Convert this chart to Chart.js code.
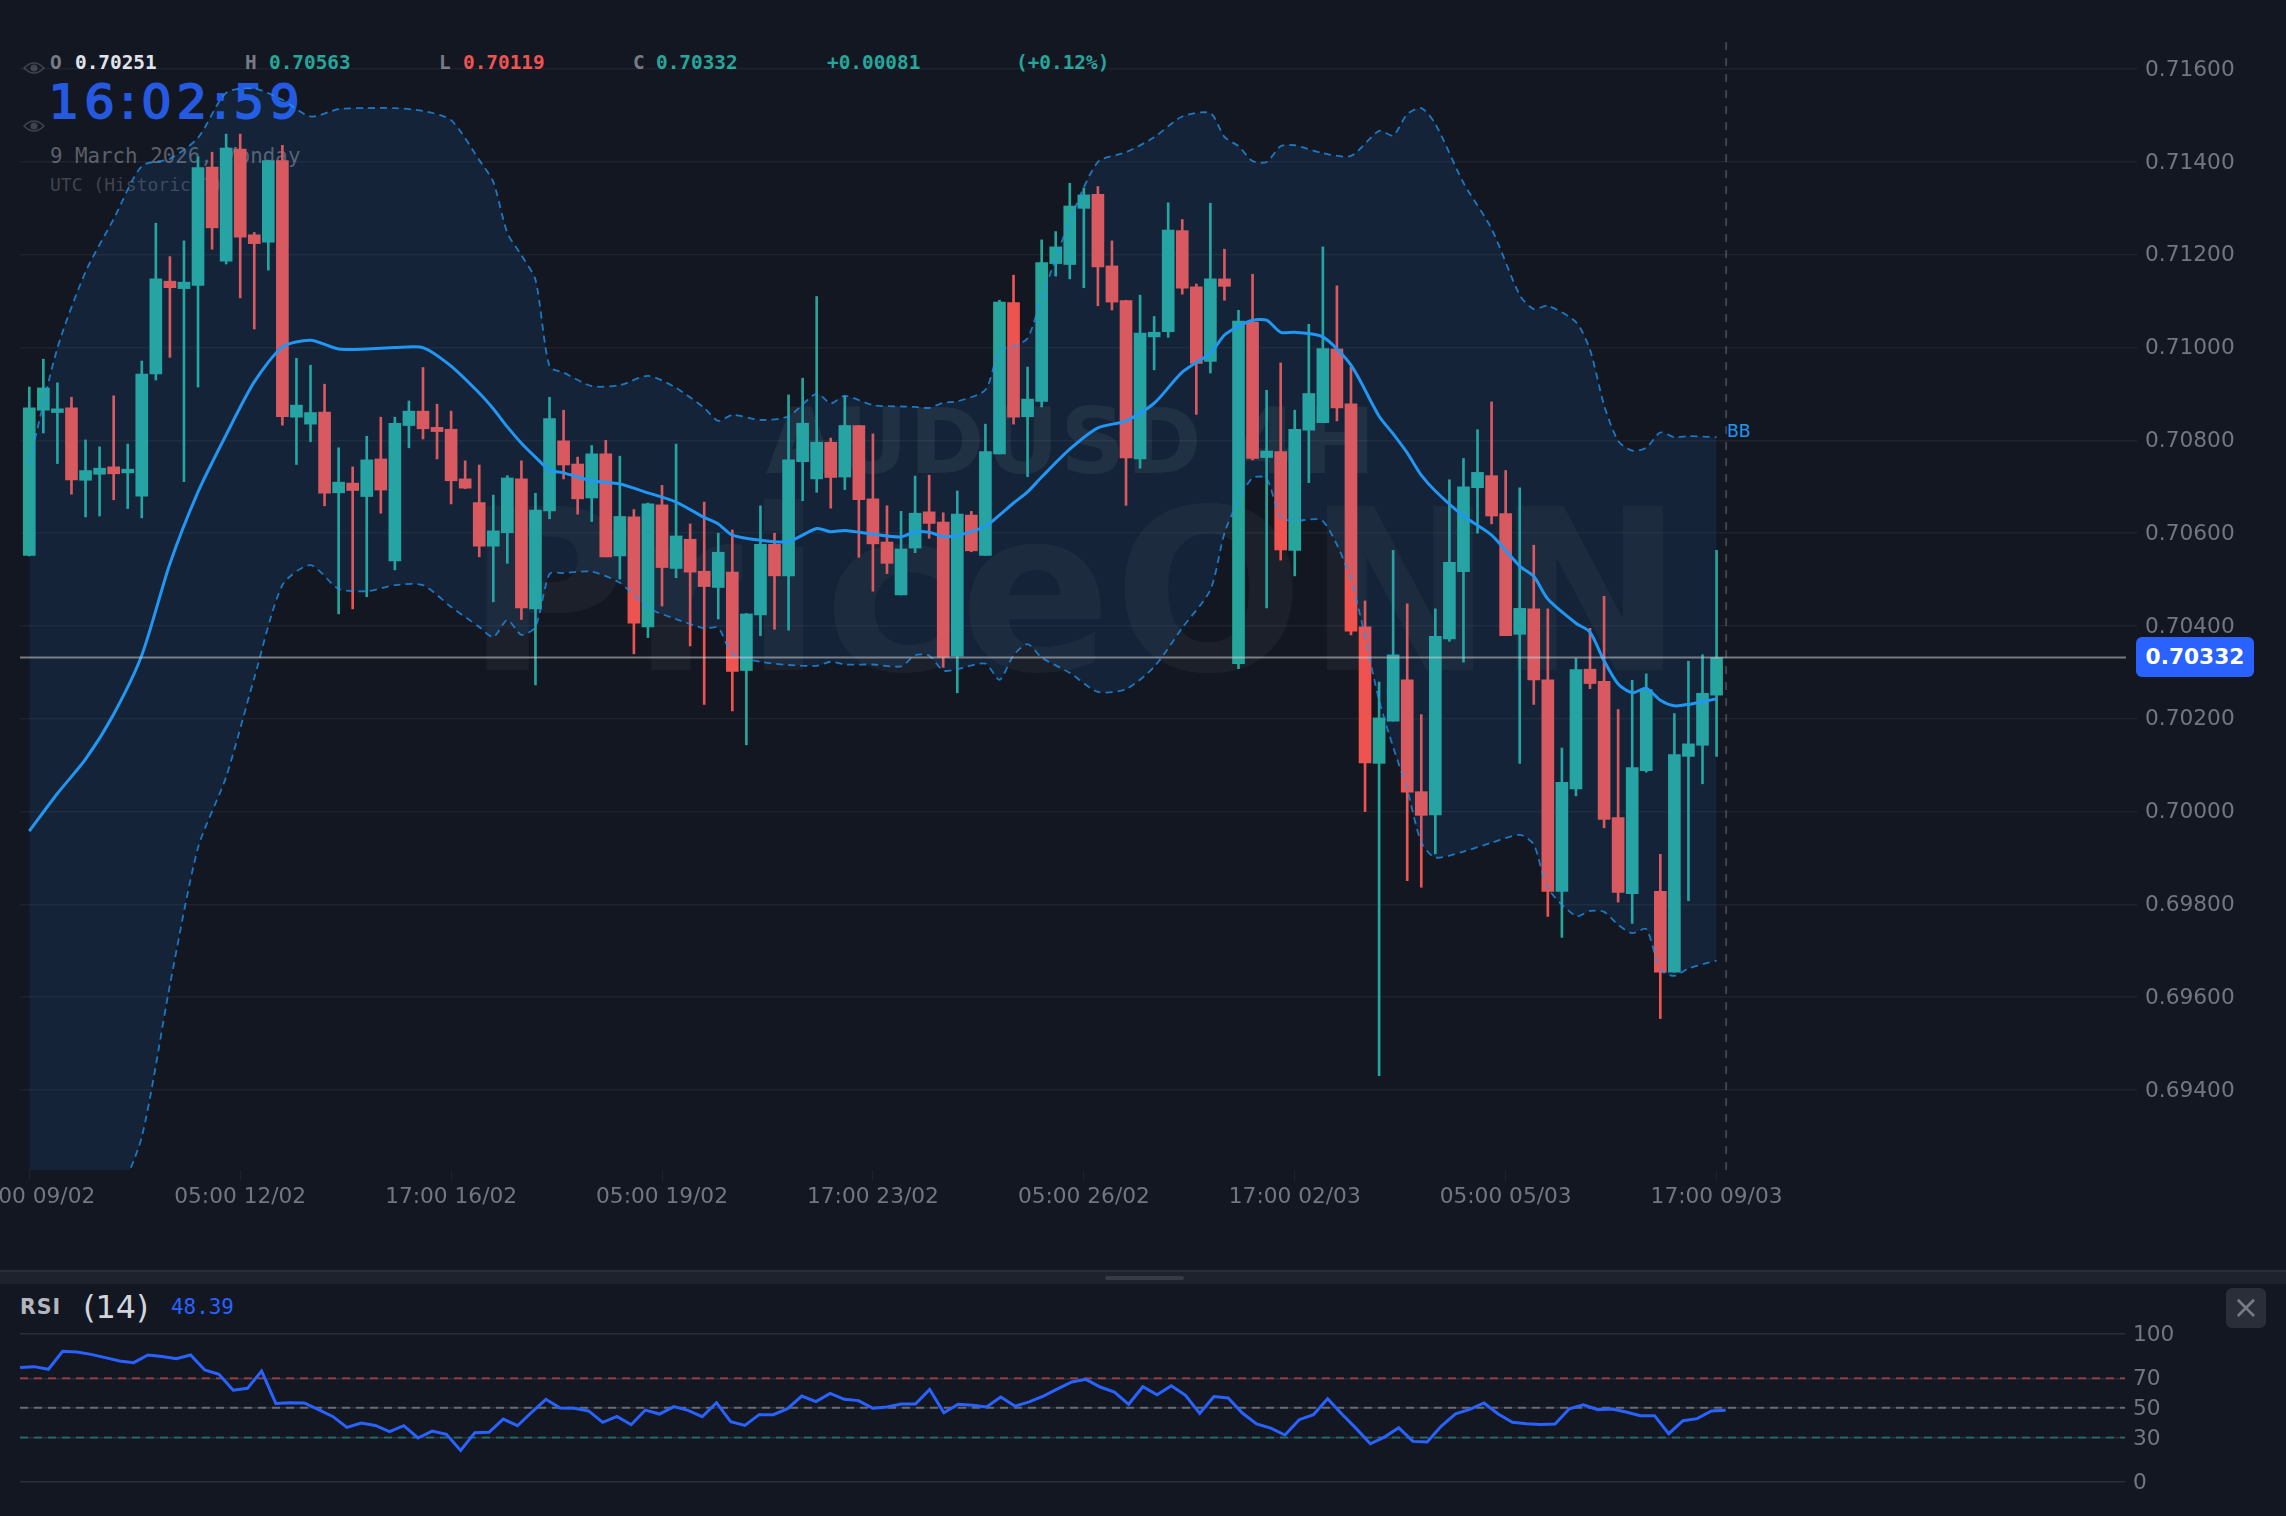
<!DOCTYPE html>
<html>
<head>
<meta charset="utf-8">
<title>AUDUSD 4H</title>
<script src="https://cdn.jsdelivr.net/npm/chart.js@4"></script>
<style>
  html, body { margin: 0; padding: 0; background: #131722; overflow: hidden; }
  #page { position: relative; width: 2286px; height: 1516px; overflow: hidden; }
  #page canvas { position: absolute; left: 0; }
  #mainChart { top: 0; }
  #rsiChart { top: 1290px; }
  .txt { position: absolute; white-space: pre; transform: translateY(-50%); line-height: 1.2; }
  .mono { font-family: "DejaVu Sans Mono", monospace; }
  .sans { font-family: "DejaVu Sans", sans-serif; }
  .mark { position: absolute; white-space: pre; line-height: 1; font-family: "DejaVu Sans", sans-serif; font-weight: bold; }
  .eye { position: absolute; left: 23px; }
  #divider { position: absolute; left: 0; top: 1270px; width: 2286px; height: 2px; background: #2a2e39; }
  #band { position: absolute; left: 0; top: 1272px; width: 2286px; height: 12px; background: #1e222d; }
  #grip { position: absolute; left: 1105px; top: 1276px; width: 79px; height: 4px; border-radius: 2px; background: #363a45; }
  #closeBtn { position: absolute; left: 2226px; top: 1288px; width: 40px; height: 40px; border-radius: 6px; background: #2a2e39;
    color: #787b86; font: 32px/38px "DejaVu Sans", sans-serif; text-align: center; }
  #priceTag { position: absolute; left: 2136px; top: 637px; width: 118px; height: 40px; border-radius: 6px; background: #2962ff;
    color: #fff; font: bold 21.7px/40px "DejaVu Sans", sans-serif; text-align: center; }
</style>
</head>
<body>
<div id="page">
  <!-- watermarks and the legend sit under the transparent chart canvas -->
  <div class="mark" style="left:766px;top:397px;font-size:90.5px;letter-spacing:1.2px;color:rgba(255,255,255,0.065)">AUDUSD 4H</div>
  <div class="mark" style="left:466px;top:481px;font-size:224px;letter-spacing:2.3px;color:rgba(255,255,255,0.04)">PriceONN</div>
  <svg class="eye" style="top:61px" width="22" height="14" viewBox="0 0 22 14"><path d="M1 7 Q11 -3 21 7 Q11 17 1 7 Z" fill="none" stroke="#3f434e" stroke-width="1.5"/><circle cx="11" cy="7" r="3.5" fill="#3f434e"/></svg>
  <svg class="eye" style="top:119px" width="22" height="14" viewBox="0 0 22 14"><path d="M1 7 Q11 -3 21 7 Q11 17 1 7 Z" fill="none" stroke="#3f434e" stroke-width="1.5"/><circle cx="11" cy="7" r="3.5" fill="#3f434e"/></svg>
  <div id="legend"></div>
  <canvas id="mainChart" width="2286" height="1270"></canvas>
  <div id="divider"></div><div id="band"></div><div id="grip"></div>
  <canvas id="rsiChart" width="2286" height="226"></canvas>
  <div id="closeBtn">×</div>
  <div id="priceTag"></div>
</div>
<script>
const opens = [
  0.70552,0.70865,0.70860,0.70870,0.70714,0.70727,0.70743,0.70730,0.70680,0.70943,
  0.71143,0.71127,0.71134,0.71389,0.71186,0.71428,0.71243,0.71227,0.71403,0.70850,
  0.70835,0.70861,0.70687,0.70708,0.70679,0.70760,0.70540,0.70832,0.70863,0.70828,
  0.70824,0.70717,0.70666,0.70572,0.70601,0.70717,0.70437,0.70648,0.70799,0.70749,
  0.70676,0.70771,0.70551,0.70635,0.70398,0.70661,0.70524,0.70587,0.70518,0.70483,
  0.70516,0.70304,0.70424,0.70576,0.70508,0.70754,0.70717,0.70796,0.70721,0.70832,
  0.70674,0.70581,0.70467,0.70568,0.70646,0.70624,0.70335,0.70639,0.70552,0.70771,
  0.71097,0.70851,0.70884,0.71181,0.71179,0.71300,0.71330,0.71176,0.71101,0.70760,
  0.71023,0.71034,0.71252,0.71131,0.70970,0.71148,0.70319,0.71055,0.70763,0.70776,
  0.70563,0.70822,0.70838,0.70997,0.70879,0.70398,0.70104,0.70195,0.70284,0.70043,
  0.69993,0.70372,0.70517,0.70698,0.70724,0.70642,0.70382,0.70437,0.70284,0.69828,
  0.70049,0.70307,0.70281,0.69987,0.69823,0.70088,0.69828,0.69654,0.70119,0.70143,0.70251];
const highs = [
  0.70915,0.70975,0.70924,0.70893,0.70801,0.70786,0.70896,0.70792,0.70971,0.71268,
  0.71196,0.71230,0.71411,0.71421,0.71460,0.71460,0.71248,0.71404,0.71436,0.70977,
  0.70962,0.70921,0.70784,0.70743,0.70809,0.70850,0.70850,0.70885,0.70957,0.70878,
  0.70863,0.70756,0.70747,0.70682,0.70724,0.70756,0.70686,0.70893,0.70865,0.70764,
  0.70789,0.70800,0.70766,0.70651,0.70665,0.70703,0.70792,0.70620,0.70667,0.70600,
  0.70607,0.70427,0.70659,0.70600,0.70898,0.70934,0.71110,0.70805,0.70896,0.70832,
  0.70814,0.70659,0.70647,0.70723,0.70725,0.70644,0.70691,0.70647,0.70835,0.71102,
  0.71156,0.70958,0.71232,0.71250,0.71354,0.71344,0.71347,0.71230,0.71102,0.71113,
  0.71067,0.71312,0.71276,0.71137,0.71311,0.71212,0.71080,0.71158,0.70908,0.70967,
  0.70865,0.71050,0.71217,0.71133,0.70958,0.70454,0.70279,0.70563,0.70448,0.70209,
  0.70437,0.70715,0.70761,0.70823,0.70883,0.70735,0.70698,0.70574,0.70437,0.70137,
  0.70330,0.70395,0.70464,0.70220,0.70283,0.70297,0.69908,0.70211,0.70324,0.70338,0.70563];
const lows = [
  0.70551,0.70816,0.70750,0.70684,0.70635,0.70637,0.70672,0.70653,0.70633,0.70930,
  0.70979,0.70711,0.70915,0.71212,0.71180,0.71107,0.71040,0.71167,0.70833,0.70748,
  0.70797,0.70659,0.70426,0.70437,0.70463,0.70643,0.70521,0.70784,0.70803,0.70760,
  0.70663,0.70696,0.70549,0.70452,0.70535,0.70414,0.70273,0.70631,0.70717,0.70641,
  0.70625,0.70549,0.70501,0.70340,0.70375,0.70443,0.70504,0.70357,0.70231,0.70415,
  0.70217,0.70144,0.70379,0.70393,0.70391,0.70670,0.70688,0.70654,0.70694,0.70548,
  0.70475,0.70513,0.70467,0.70558,0.70589,0.70311,0.70256,0.70560,0.70552,0.70771,
  0.70835,0.70722,0.70872,0.71154,0.71148,0.71129,0.71090,0.71081,0.70660,0.70740,
  0.70952,0.71022,0.71115,0.70856,0.70945,0.71102,0.70308,0.70758,0.70439,0.70542,
  0.70508,0.70709,0.70838,0.70842,0.70381,0.70000,0.69431,0.70195,0.69851,0.69837,
  0.69909,0.70367,0.70322,0.70600,0.70620,0.70379,0.70104,0.70231,0.69774,0.69729,
  0.70034,0.70265,0.69965,0.69805,0.69759,0.70085,0.69554,0.69654,0.69808,0.70060,0.70119];
const closes = [
  0.70870,0.70913,0.70868,0.70715,0.70735,0.70740,0.70728,0.70738,0.70943,0.71148,
  0.71129,0.71141,0.71388,0.71258,0.71430,0.71238,0.71224,0.71403,0.70851,0.70876,
  0.70860,0.70686,0.70710,0.70692,0.70758,0.70693,0.70837,0.70863,0.70825,0.70819,
  0.70713,0.70697,0.70572,0.70605,0.70719,0.70439,0.70650,0.70847,0.70747,0.70674,
  0.70771,0.70549,0.70636,0.70406,0.70663,0.70526,0.70594,0.70516,0.70485,0.70559,
  0.70302,0.70426,0.70576,0.70508,0.70758,0.70837,0.70796,0.70720,0.70832,0.70672,
  0.70577,0.70535,0.70566,0.70643,0.70621,0.70333,0.70641,0.70562,0.70776,0.71098,
  0.70850,0.70889,0.71183,0.71217,0.71305,0.71329,0.71174,0.71098,0.70762,0.71031,
  0.71033,0.71253,0.71128,0.70966,0.71148,0.71132,0.71057,0.70761,0.70777,0.70564,
  0.70824,0.70901,0.70998,0.70870,0.70389,0.70105,0.70202,0.70338,0.70042,0.69992,
  0.70378,0.70537,0.70700,0.70731,0.70637,0.70379,0.70438,0.70284,0.69828,0.70063,
  0.70306,0.70276,0.69983,0.69826,0.70095,0.70263,0.69654,0.70123,0.70146,0.70255,0.70332];

// Bollinger bands, read at every other bar plus the bars where the curves turn sharply
const bbBars = [0,2,4,6,8,10,12,14,16,18,
  20,22,24,26,28,30,32,33,34,35,
  36,37,38,40,42,44,46,48,49,50,
  52,54,56,57,58,60,62,63,64,65,
  66,68,69,70,71,72,74,76,78,80,
  82,84,85,86,87,88,89,90,92,94,
  96,97,98,99,100,102,104,106,107,108,
  110,111,112,113,114,115,116,117,118,120];
const bbUpper = [0.70751,0.70999,0.71163,0.71277,0.71391,0.71407,0.71452,0.71549,0.71558,0.71534,
  0.71498,0.71514,0.71516,0.71516,0.71510,0.71490,0.71404,0.71357,0.71247,0.71199,
  0.71146,0.70959,0.70946,0.70917,0.70919,0.70939,0.70913,0.70870,0.70842,0.70855,
  0.70844,0.70852,0.70901,0.70880,0.70896,0.70876,0.70873,0.70872,0.70870,0.70881,
  0.70884,0.70909,0.70995,0.71003,0.71020,0.71107,0.71273,0.71400,0.71421,0.71453,
  0.71498,0.71505,0.71454,0.71434,0.71402,0.71400,0.71434,0.71436,0.71419,0.71413,
  0.71467,0.71457,0.71503,0.71516,0.71482,0.71355,0.71256,0.71113,0.71083,0.71090,
  0.71055,0.70995,0.70876,0.70799,0.70778,0.70784,0.70817,0.70807,0.70809,0.70807];
const bbMiddle = [0.69958,0.70039,0.70113,0.70210,0.70337,0.70534,0.70689,0.70812,0.70926,0.71001,
  0.71016,0.70997,0.70997,0.71000,0.71000,0.70960,0.70902,0.70868,0.70829,0.70794,
  0.70764,0.70736,0.70730,0.70713,0.70706,0.70687,0.70667,0.70634,0.70620,0.70596,
  0.70585,0.70582,0.70610,0.70603,0.70606,0.70598,0.70592,0.70603,0.70602,0.70593,
  0.70595,0.70615,0.70639,0.70665,0.70689,0.70721,0.70781,0.70827,0.70842,0.70880,
  0.70947,0.70988,0.71027,0.71046,0.71059,0.71059,0.71033,0.71033,0.71023,0.70962,
  0.70852,0.70814,0.70773,0.70725,0.70691,0.70637,0.70596,0.70529,0.70507,0.70458,
  0.70406,0.70387,0.70325,0.70275,0.70256,0.70266,0.70240,0.70228,0.70231,0.70243];
const bbLower = [0.68797,0.68883,0.68969,0.69141,0.69299,0.69626,0.69922,0.70075,0.70288,0.70488,
  0.70531,0.70480,0.70475,0.70488,0.70488,0.70441,0.70398,0.70376,0.70413,0.70381,
  0.70398,0.70512,0.70514,0.70517,0.70493,0.70439,0.70415,0.70395,0.70396,0.70340,
  0.70323,0.70316,0.70314,0.70323,0.70317,0.70317,0.70313,0.70337,0.70336,0.70304,
  0.70307,0.70319,0.70284,0.70337,0.70361,0.70332,0.70299,0.70258,0.70264,0.70312,
  0.70396,0.70478,0.70600,0.70671,0.70719,0.70718,0.70633,0.70627,0.70626,0.70499,
  0.70240,0.70139,0.70047,0.69934,0.69901,0.69914,0.69933,0.69950,0.69929,0.69835,
  0.69775,0.69786,0.69784,0.69756,0.69738,0.69747,0.69659,0.69646,0.69662,0.69679];

const rsiValues = [77.4,77.9,76.1,88.3,87.8,86.2,84.0,81.7,80.6,85.8,84.7,83.3,85.8,75.6,72.7,61.9,63.2,74.9,53.0,53.5,
  53.3,48.8,44.2,36.8,39.7,38.1,33.9,37.9,29.6,34.3,32.1,21.2,33.2,33.4,42.4,37.9,47.0,55.8,49.9,49.7,
  47.9,40.2,44.2,38.6,48.5,45.8,50.8,48.3,44.0,53.5,40.6,38.1,45.4,45.4,49.4,
  58.0,54.2,59.8,55.8,54.9,49.7,50.6,52.6,52.6,62.5,46.7,52.4,51.7,50.6,57.3,51.2,54.0,58.0,62.8,67.5,
  69.3,64.1,60.7,52.4,64.3,58.9,65.0,58.5,46.3,57.6,56.7,46.5,39.1,36.3,31.6,42.0,45.4,56.2,45.8,36.1,
  25.7,30.2,36.6,27.3,26.9,37.7,46.0,49.0,53.3,45.8,40.2,39.3,38.8,39.1,49.4,52.1,48.8,
  49.2,47.2,44.7,44.7,32.5,41.3,42.7,47.9,48.39];
const rsiLevels = [70, 50, 30];
const rsiLevelColors = ['rgba(239,83,80,0.55)', 'rgba(120,123,134,0.8)', 'rgba(38,166,154,0.5)'];
const rsiTicks = [0, 30, 50, 70, 100];

const priceTicks = [0.694,0.696,0.698,0.700,0.702,0.704,0.706,0.708,0.710,0.712,0.714,0.716];
const timeTickBars = [0,15,30,45,60,75,90,105,120];
const timeTickLabels = ['17:00 09/02','05:00 12/02','17:00 16/02','05:00 19/02','17:00 23/02','05:00 26/02','17:00 02/03','05:00 05/03','17:00 09/03'];

// bar scale limits; the last bar is followed by empty space up to the price axis
const barMin = -0.661, barMax = 149.12, cursorBar = 120.68;
const priceMin = 0.692277, priceMax = 0.716628;
const rsiBarMax = 148.1;

const UP = '#26a69a', DOWN = '#ef5350', AXIS_TEXT = '#737680';
const last = closes.length - 1;

// legend texts, positioned by left edge and vertical centre
function addText(x, y, text, cls, style) {
    const el = document.createElement('div');
    el.className = 'txt ' + cls;
    el.textContent = text;
    el.style.cssText = 'left:' + x + 'px;top:' + y + 'px;' + style;
    document.getElementById('legend').appendChild(el);
}
const change = closes[last] - opens[last];
const legendFont = 'font-size:19.4px;font-weight:bold;';
addText(50, 63, 'O', 'mono', legendFont + 'color:#787b86');
addText(75, 63, opens[last].toFixed(5), 'mono', legendFont + 'color:#e0e3eb');
addText(245, 63, 'H', 'mono', legendFont + 'color:#787b86');
addText(269, 63, highs[last].toFixed(5), 'mono', legendFont + 'color:' + UP);
addText(439, 63, 'L', 'mono', legendFont + 'color:#787b86');
addText(463, 63, lows[last].toFixed(5), 'mono', legendFont + 'color:' + DOWN);
addText(633, 63, 'C', 'mono', legendFont + 'color:#787b86');
addText(656, 63, closes[last].toFixed(5), 'mono', legendFont + 'color:' + UP);
addText(827, 63, '+' + change.toFixed(5), 'mono', legendFont + 'color:' + UP);
addText(1016, 63, '(+' + (change / opens[last] * 100).toFixed(2) + '%)', 'mono', legendFont + 'color:' + UP);
addText(49, 102, '16:02:59', 'sans', 'font-size:47px;letter-spacing:5.6px;color:#2559e0;-webkit-text-stroke:2px #2559e0');
addText(50, 156, '9 March 2026, Monday', 'mono', 'font-size:20.8px;color:#5b5f6b');
addText(50, 185, 'UTC (Historic T)', 'mono', 'font-size:18px;color:#41454f');
addText(1727, 431, 'BB', 'sans', 'font-size:17.3px;color:#2196f3');
addText(20, 1307, 'RSI', 'sans', 'font-size:20.5px;font-weight:bold;letter-spacing:1px;color:#b2b5be');
addText(83, 1307, '(14)', 'sans', 'font-size:32px;color:#d1d4dc');
addText(171, 1308, rsiValues[rsiValues.length - 1].toFixed(2), 'mono', 'font-size:20.9px;color:#2962ff');
document.getElementById('priceTag').textContent = closes[last].toFixed(5);

const bodies = opens.map((o, i) => ({ x: i, y: [o, closes[i]] }));
const wicks = lows.map((l, i) => ({ x: i, y: [l, highs[i]] }));
const candleColors = closes.map((c, i) => c >= opens[i] ? UP : DOWN);
const bbPoints = list => list.map((v, i) => ({ x: bbBars[i], y: v }));

const tickFont = { family: '"DejaVu Sans", sans-serif', size: 21.7 };

// keep the plot edges fixed: no extra room for labels that hang over the ends
function fixedBox(size) {
    return scale => {
        if (scale.isHorizontal()) scale.height = size; else scale.width = size;
        scale.paddingLeft = scale.paddingRight = scale.paddingTop = scale.paddingBottom = 0;
    };
}

new Chart(document.getElementById('mainChart'), {
    data: {
        datasets: [
            { type: 'bar', data: wicks, backgroundColor: candleColors, barThickness: 2, grouped: false, order: 4 },
            { type: 'bar', data: bodies, backgroundColor: candleColors, barThickness: 12, grouped: false, order: 3 },
            { type: 'line', data: bbPoints(bbUpper), borderColor: 'rgba(33,150,243,0.75)', borderWidth: 1.8, borderDash: [7, 5],
              backgroundColor: 'rgba(33,150,243,0.1)', fill: '+1', tension: 0.25, pointRadius: 0, order: 2 },
            { type: 'line', data: bbPoints(bbLower), borderColor: 'rgba(33,150,243,0.75)', borderWidth: 1.8, borderDash: [7, 5],
              fill: false, tension: 0.25, pointRadius: 0, order: 2 },
            { type: 'line', data: bbPoints(bbMiddle), borderColor: '#2196f3', borderWidth: 3,
              fill: false, tension: 0.25, pointRadius: 0, order: 1 },
            { type: 'line', data: [{ x: barMin, y: closes[last] }, { x: barMax, y: closes[last] }], borderColor: 'rgba(205,205,205,0.55)', borderWidth: 2,
              fill: false, pointRadius: 0, order: 0 },
            { type: 'line', data: [{ x: cursorBar, y: priceMin }, { x: cursorBar, y: priceMax }], borderColor: 'rgba(120,123,134,0.45)', borderWidth: 2, borderDash: [8, 8],
              fill: false, pointRadius: 0, order: 0 }
        ]
    },
    options: {
        responsive: false,
        animation: false,
        events: [],
        layout: { padding: { left: 20, top: 40, right: 0, bottom: 0 } },
        plugins: { legend: { display: false }, tooltip: { enabled: false } },
        scales: {
            x: {
                type: 'linear', min: barMin, max: barMax, offset: false,
                afterBuildTicks: scale => { scale.ticks = timeTickBars.map(value => ({ value })); },
                afterFit: fixedBox(100),
                grid: { offset: false, drawOnChartArea: false, drawTicks: true, tickLength: 11, color: 'rgba(255,255,255,0.05)' },
                border: { display: false },
                ticks: {
                    autoSkip: false, maxRotation: 0, minRotation: 0, padding: 3.5, color: AXIS_TEXT, font: tickFont,
                    callback: value => timeTickLabels[timeTickBars.indexOf(value)]
                }
            },
            y: {
                position: 'right', min: priceMin, max: priceMax,
                afterBuildTicks: scale => { scale.ticks = priceTicks.map(value => ({ value })); },
                afterFit: fixedBox(160),
                grid: { color: 'rgba(255,255,255,0.05)', lineWidth: 1.5, tickLength: 11 },
                border: { display: false },
                ticks: { padding: 8, labelOffset: 1, color: AXIS_TEXT, font: tickFont, callback: value => value.toFixed(5) }
            }
        }
    }
});

new Chart(document.getElementById('rsiChart'), {
    data: {
        datasets: rsiLevels.map((level, i) => ({
            type: 'line', data: [{ x: 0, y: level }, { x: rsiBarMax, y: level }], borderColor: rsiLevelColors[i],
            borderWidth: 2, borderDash: [8, 6], pointRadius: 0, fill: false, order: 2
        })).concat([
            { type: 'line', data: rsiValues.map((v, i) => ({ x: i, y: v })), borderColor: '#2962ff', borderWidth: 3,
              pointRadius: 0, fill: false, tension: 0, order: 1 }
        ])
    },
    options: {
        responsive: false,
        animation: false,
        events: [],
        layout: { padding: { left: 20, top: 44, right: 0, bottom: 34.3 } },
        plugins: { legend: { display: false }, tooltip: { enabled: false } },
        scales: {
            x: { type: 'linear', min: 0, max: rsiBarMax, display: false },
            y: {
                position: 'right', min: 0, max: 100,
                afterBuildTicks: scale => { scale.ticks = rsiTicks.map(value => ({ value })); },
                afterFit: fixedBox(161),
                grid: { color: '#2a2e39', lineWidth: 1.5, drawTicks: false },
                border: { display: false },
                ticks: { padding: 8, labelOffset: 1.5, color: AXIS_TEXT, font: tickFont }
            }
        }
    }
});
</script>
</body>
</html>
